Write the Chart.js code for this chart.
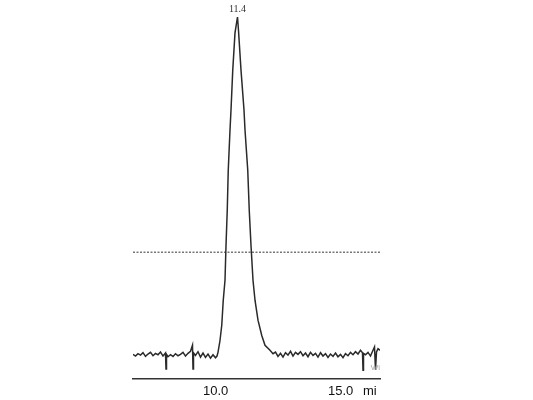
<!DOCTYPE html>
<html>
<head>
<meta charset="utf-8">
<script src="https://cdn.jsdelivr.net/npm/chart.js@4/dist/chart.umd.min.js"></script>
<style>
  html, body { margin: 0; padding: 0; background: #fff; }
  canvas { display: block; }
</style>
</head>
<body>
<canvas id="peakChart" width="533" height="400"></canvas>
<script>
// retention time (min)
const times = [
    7.2, 7.3, 7.4, 7.5, 7.6, 7.7, 7.8, 7.9, 8.0, 8.1, 8.2, 8.3, 8.4, 8.5, 8.52, 8.54,
    8.6, 8.7, 8.8, 8.9, 9.0, 9.1, 9.2, 9.3, 9.4, 9.5, 9.58, 9.6, 9.62, 9.7, 9.8, 9.9,
    10.0, 10.1, 10.2, 10.3, 10.4, 10.5, 10.56,
    10.6, 10.68, 10.75, 10.81, 10.88, 10.92, 10.97, 11.01, 11.08, 11.12, 11.19, 11.28, 11.38,
    11.42, 11.52, 11.64, 11.68, 11.79, 11.85, 11.92, 12.0, 12.08, 12.2, 12.35, 12.48, 12.68,
    12.8, 12.9, 13.0, 13.1, 13.2, 13.3, 13.4, 13.5, 13.6, 13.7, 13.8, 13.9, 14.0, 14.1,
    14.2, 14.3, 14.4, 14.5, 14.6, 14.7, 14.8, 14.9, 15.0, 15.1, 15.2, 15.3, 15.4, 15.5,
    15.6, 15.7, 15.8, 15.9, 16.0, 16.1, 16.2, 16.3, 16.38, 16.4, 16.42, 16.5, 16.6, 16.7,
    16.8, 16.86, 16.9, 16.94, 17.0, 17.08
];
// detector signal (relative)
const signal = [
    0.3, -0.2, 0.5, 0.1, 0.8, -0.3, 0.4, 0.9, -0.1, 0.6, 0.2, 1.0, -0.2, 0.7, -4.0, 0.3,
    -0.4, 0.2, -0.3, 0.5, -0.1, 0.3, 0.9, -0.2, 0.6, 1.2, 3.0, -4.0, 0.8, 0.0, 1.1, -0.5,
    0.7, -0.6, 0.4, -0.8, 0.2, -0.7, -0.2,
    0.9, 4.4, 8.9, 16.3, 22.2, 32.5, 42.9, 54.7, 66.6, 72.5, 84.3, 95.3, 100,
    96.0, 84.3, 72.5, 66.6, 54.7, 42.9, 32.5, 22.2, 16.3, 10.4, 5.9, 3.0, 1.5,
    0.5, 1.0, -0.3, 0.6, -0.5, 0.8, 0.1, 1.2, -0.2, 0.9, 0.3, 1.1, -0.1, 0.7,
    -0.4, 0.9, 0.0, 0.6, -0.5, 0.8, -0.2, 0.5, -0.6, 0.4, -0.3, 0.7, -0.4, 0.3,
    -0.7, 0.5, -0.1, 0.9, 0.2, 1.1, 0.4, 1.5, 0.8, -4.4, 0.6, 0.2, 0.9, -0.2,
    1.5, 2.5, -4.2, 1.0, 2.0, 1.5
];
const thresholdLevel = 30.5;
const xRange = [7.2, 17.08];
const tickValues = [10, 15, 16.4];
const tickLabels = ['10.0', '15.0', 'mi'];
const peakLabel = '11.4';

const peakLabelPlugin = {
    id: 'peakLabel',
    afterDatasetsDraw(chart) {
        const ctx = chart.ctx;
        const peakIndex = signal.indexOf(Math.max(...signal));
        const x = chart.scales.x.getPixelForValue(times[peakIndex]);
        const y = chart.scales.y.getPixelForValue(signal[peakIndex]);
        ctx.save();
        ctx.fillStyle = '#333';
        ctx.font = '10px "Liberation Serif"';
        ctx.textAlign = 'center';
        ctx.textBaseline = 'bottom';
        ctx.fillText(peakLabel, x, y - 3);
        // little gray mark at the right end
        ctx.fillStyle = '#aaa';
        ctx.font = '8px "Liberation Sans"';
        ctx.textAlign = 'right';
        ctx.textBaseline = 'middle';
        ctx.fillText('Wi', chart.chartArea.right, chart.scales.y.getPixelForValue(-3.6));
        ctx.restore();
    }
};

const ctx = document.getElementById('peakChart').getContext('2d');
new Chart(ctx, {
    type: 'line',
    data: {
        datasets: [{
            data: times.map((t, i) => ({ x: t, y: signal[i] })),
            borderColor: '#2a2a2a',
            borderWidth: 1.5,
            pointRadius: 0,
            tension: 0
        }, {
            data: xRange.map(t => ({ x: t, y: thresholdLevel })),
            borderColor: '#333',
            borderWidth: 1,
            borderDash: [2, 1.5],
            pointRadius: 0
        }]
    },
    options: {
        responsive: false,
        animation: false,
        layout: { padding: { left: 133, right: 153, top: 17, bottom: -4 } },
        plugins: { legend: { display: false }, tooltip: { enabled: false } },
        scales: {
            x: {
                type: 'linear',
                min: xRange[0],
                max: xRange[1],
                grid: { display: false, drawTicks: false, tickLength: 0 },
                border: { color: '#333', width: 1.5 },
                afterBuildTicks: axis => {
                    axis.ticks = tickValues.map(v => ({ value: v }));
                },
                ticks: {
                    callback: (value, index) => tickLabels[index],
                    align: 'start',
                    autoSkip: false,
                    maxRotation: 0,
                    padding: 5,
                    color: '#111',
                    font: { family: '"Liberation Sans"', size: 13 }
                }
            },
            y: {
                display: false,
                min: -6.8,
                max: 100
            }
        }
    },
    plugins: [peakLabelPlugin]
});
</script>
</body>
</html>
